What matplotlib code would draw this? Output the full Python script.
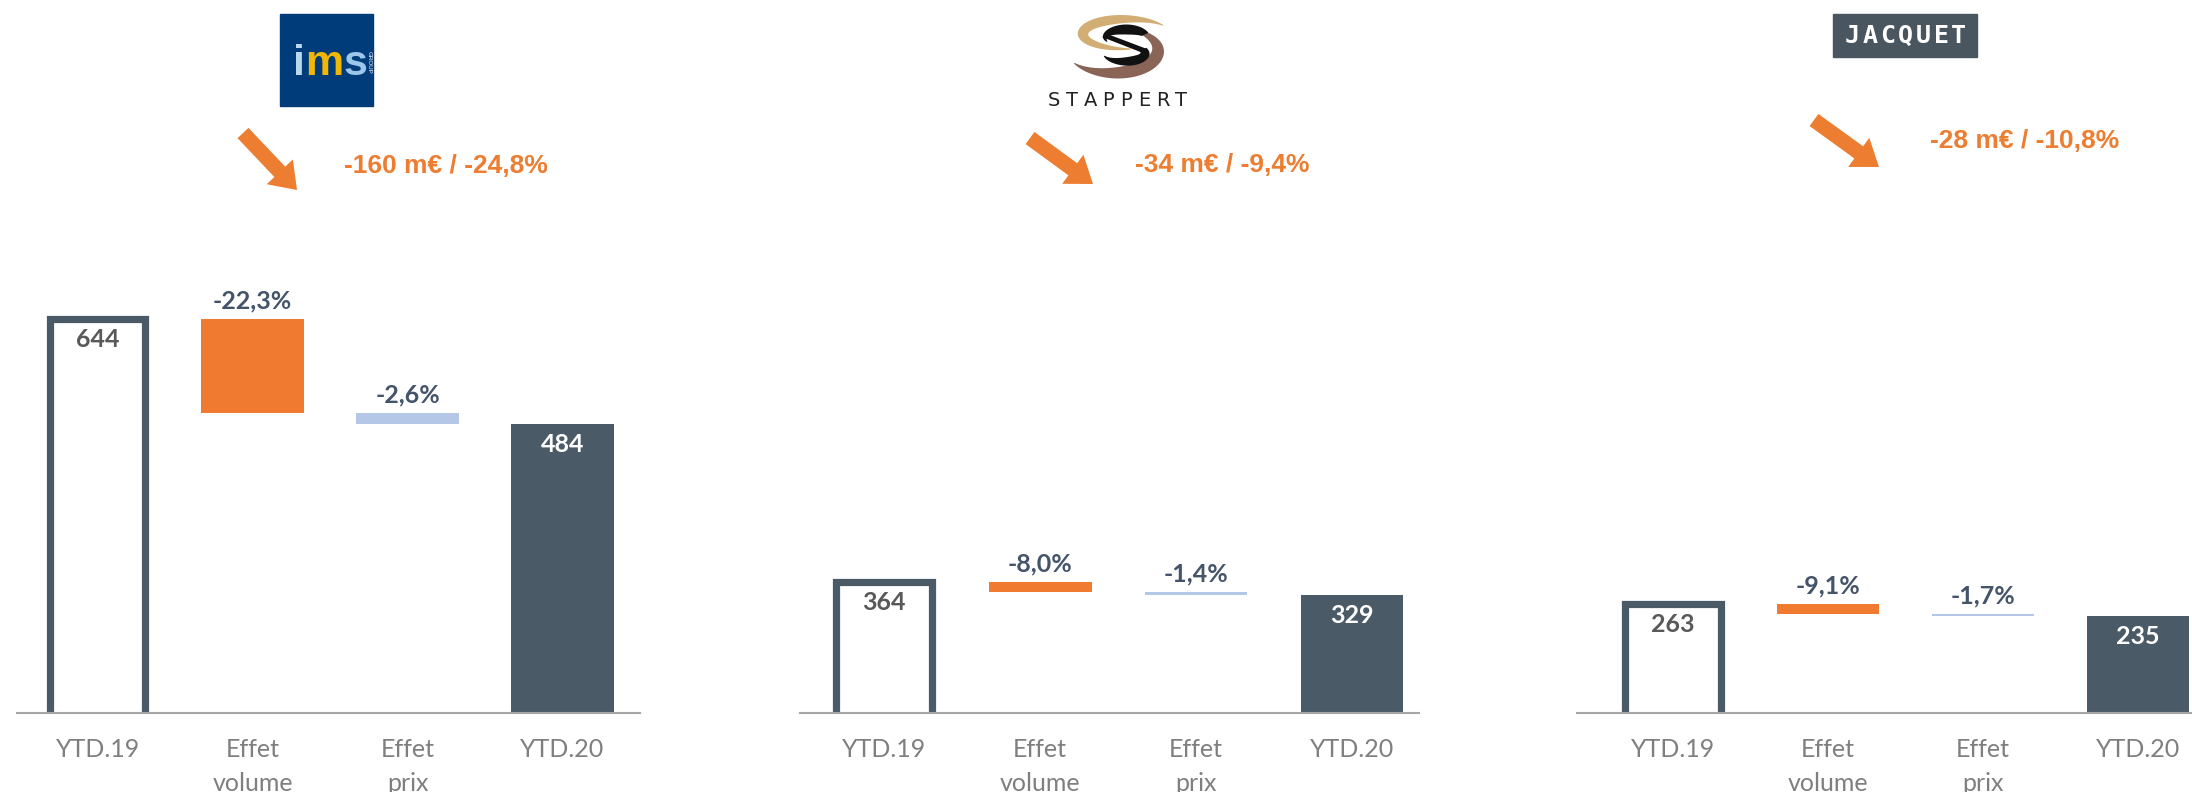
import numpy as np
import matplotlib.pyplot as plt
from matplotlib.patches import Rectangle, Polygon, FancyArrow

W, H = 2192, 792

# data
categories = ["YTD.19", "Effet\nvolume", "Effet\nprix", "YTD.20"]
companies = ["IMS", "STAPPERT", "JACQUET"]
ytd19 = [644, 364, 263]
ytd20 = [484, 329, 235]
effet_volume = [-22.3, -8.0, -9.1]
effet_prix = [-2.6, -1.4, -1.7]
ecart_meur = [-160, -34, -28]
ecart_pct = [-24.8, -9.4, -10.8]

ORANGE = "#F07A30"
SLATE = "#4B5A67"
LIGHTBLUE = "#B4C7E7"
PCT_COL = "#44546A"
VAL_COL = "#595959"
TICK_COL = "#7F7F7F"

# layout in pixels (left, right of each panel), axis limits per panel
BASE = 713
panel_px = [(17, 640), (800, 1419), (1577, 2192)]
panel_xlim = [(-0.52, 3.50), (-0.54, 3.43), (-0.62, 3.35)]
panel_ylim = [(43, 1130), (0, 1981), (0, 1722)]
arrows = [((243, 133), (297, 190)), ((1030, 138), (1093, 184)), ((1814, 120), (1879, 167))]
headline_pos = [(446, 166), (1222, 165), (2025, 141)]


def fmt(v):
    return f"{v:.1f}%".replace(".", ",")


fig = plt.figure(figsize=(W / 100, H / 100), dpi=100)

bw = 0.66
for i in range(3):
    l, r = panel_px[i]
    ax = fig.add_axes([l / W, (H - BASE) / H, (r - l) / W, BASE / H])
    ax.set_xlim(*panel_xlim[i])
    ax.set_ylim(*panel_ylim[i])
    for s in ["top", "left", "right"]:
        ax.spines[s].set_visible(False)
    ax.spines["bottom"].set_color("#A6A6A6")
    ax.spines["bottom"].set_linewidth(1.5)
    ax.set_yticks([])
    ax.set_xticks(range(4))
    ax.set_xticklabels(categories, color=TICK_COL, fontsize=18, family="Lato",
                       linespacing=1.6)
    ax.tick_params(axis="x", length=0, pad=18)

    start = ytd19[i]
    end = ytd20[i]
    mid = start + start * effet_volume[i] / 100

    # YTD.19 as an open outlined bar
    ow = bw - 0.045
    ax.plot([-ow / 2, -ow / 2, ow / 2, ow / 2], [0, start, start, 0],
            color=SLATE, lw=5.2, solid_joinstyle="miter", zorder=2)
    ax.bar(1, mid - start, bottom=start, width=bw, color=ORANGE, zorder=2)
    ax.bar(2, end - mid, bottom=mid, width=bw, color=LIGHTBLUE, zorder=2)
    ax.bar(3, end, width=bw, color=SLATE, zorder=2)

    lab = dict(ha="center", va="center", fontsize=18, fontweight="bold",
               family="Lato", textcoords="offset points")
    ax.annotate(str(start), (0, start), xytext=(0, -15), color=VAL_COL, **lab)
    ax.annotate(str(end), (3, end), xytext=(0, -15), color="white", **lab)
    ax.annotate(fmt(effet_volume[i]), (1, start), xytext=(0, 13), color=PCT_COL, **lab)
    ax.annotate(fmt(effet_prix[i]), (2, mid), xytext=(0, 13), color=PCT_COL, **lab)

# overlay in pixel coordinates for logos, arrows and headlines
ov = fig.add_axes([0, 0, 1, 1])
ov.set_xlim(0, W)
ov.set_ylim(H, 0)
ov.axis("off")

for i in range(3):
    (x0, y0), (x1, y1) = arrows[i]
    ov.add_patch(FancyArrow(x0, y0, x1 - x0, y1 - y0, width=15, head_width=36,
                            head_length=25, length_includes_head=True,
                            color="#ED7D31", lw=0))
    txt = f"{ecart_meur[i]} m€ / {fmt(ecart_pct[i])}"
    ov.text(*headline_pos[i], txt, ha="center", va="center", fontsize=19,
            fontweight="bold", color="#ED7D31", family="Liberation Sans")

# IMS logo
ov.add_patch(Rectangle((280, 14), 93, 92, color="#003B7A"))
for ch, x, c in [("i", 299, "#B8D8F0"), ("m", 324, "#F2B705"), ("s", 355, "#9CC7EA")]:
    ov.text(x, 75, ch, ha="center", va="baseline", fontsize=31, fontweight="bold",
            color=c, family="Liberation Sans")
ov.text(369, 62, "GROUP", rotation=270, ha="center", va="center", fontsize=4.5,
        color="white", family="Liberation Sans")


# Stappert logo: tapered elliptic strokes
def swoosh(cx, cy, rx, ry, a0, a1, w, color, phase=0.1):
    t = np.radians(np.linspace(a0, a1, 90))
    u = np.linspace(0, 1, 90)
    th = w * np.sin(np.pi * (phase + (1 - phase) * u)) + 1
    xo = cx + (rx + th / 2) * np.cos(t)
    yo = cy - (ry + th / 2) * np.sin(t)
    xi = cx + (rx - th / 2) * np.cos(t)
    yi = cy - (ry - th / 2) * np.sin(t)
    pts = np.column_stack([np.r_[xo, xi[::-1]], np.r_[yo, yi[::-1]]])
    ov.add_patch(Polygon(pts, closed=True, color=color, lw=0))


swoosh(1127, 34, 44, 15, 35, 275, 10, "#D2AE74", phase=0.0)
swoosh(1112, 50, 46, 23, 215, 425, 13, "#8A6457", phase=0.0)
swoosh(1126, 38, 21, 8.5, 25, 205, 9, "#111111", phase=0.25)
swoosh(1124, 53, 21, 8.5, 25, -160, 9, "#111111", phase=0.25)
ov.add_patch(Polygon([(1102, 37), (1110, 35), (1147, 49), (1143, 53)], closed=True,
                     color="#111111", lw=0))
for k, ch in enumerate("STAPPERT"):
    ov.text(1054 + 18.1 * k, 100, ch, ha="center", va="center", fontsize=14,
            color="#222222", family="DejaVu Sans")

# Jacquet logo
ov.add_patch(Rectangle((1833, 14), 144, 43, color="#4A565F"))
for k, ch in enumerate("JACQUET"):
    ov.text(1852 + 17.8 * k, 36, ch, ha="center", va="center", fontsize=18,
            fontweight="bold", color="white", family="DejaVu Sans Mono")

fig.savefig("out.png", dpi=100)
